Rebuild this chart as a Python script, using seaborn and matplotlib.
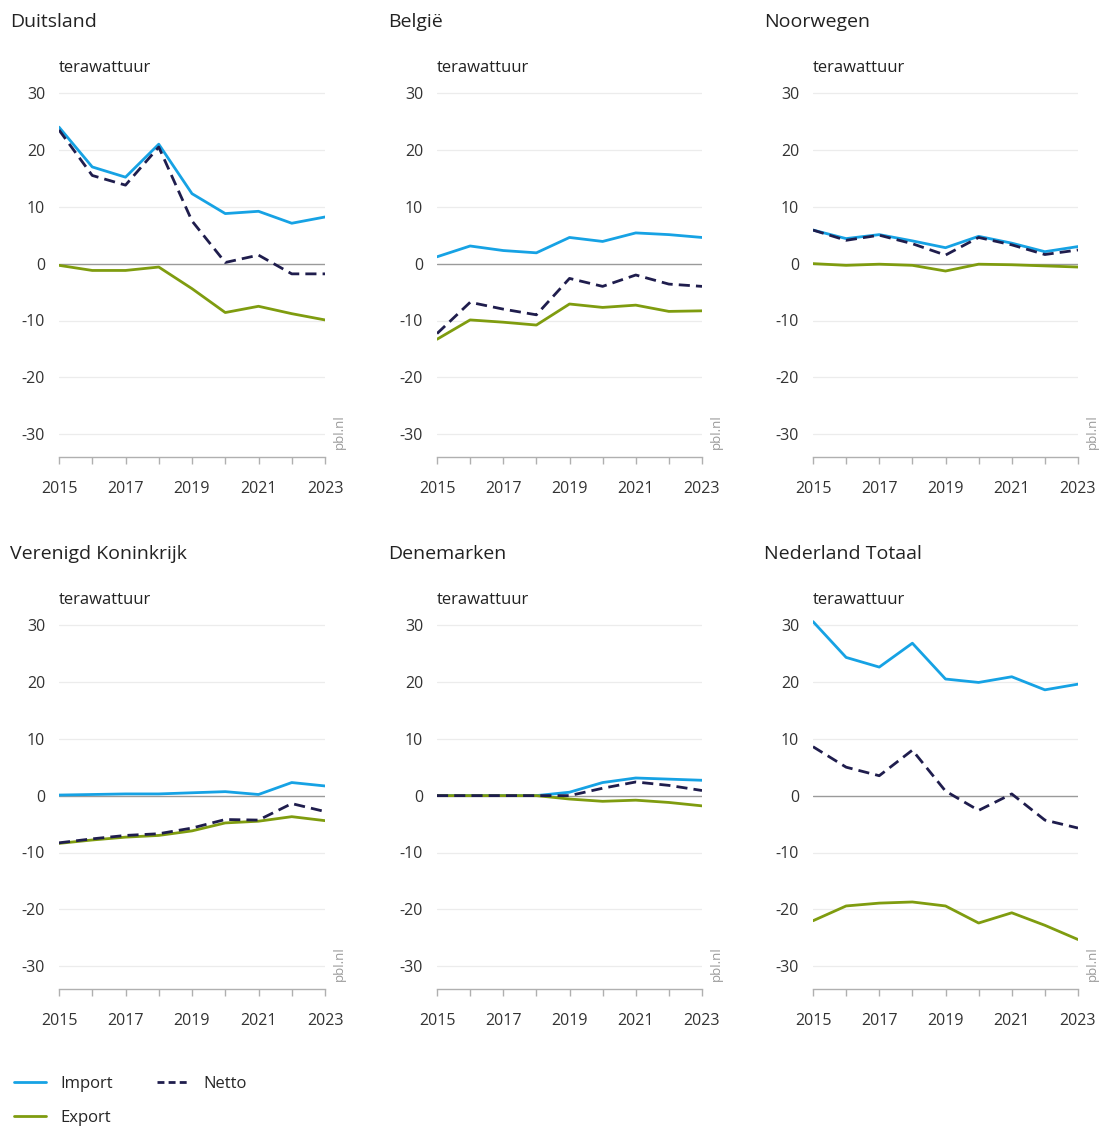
import pandas as pd
import matplotlib.pyplot as plt
import seaborn as sns
from matplotlib.lines import Line2D

# Data (terawattuur)
years = [2015, 2016, 2017, 2018, 2019, 2020, 2021, 2022, 2023]
countries = ['Duitsland', 'België', 'Noorwegen',
             'Verenigd Koninkrijk', 'Denemarken', 'Nederland Totaal']

import_vals = {
    'Duitsland': [24.0, 17.0, 15.2, 21.0, 12.3, 8.8, 9.2, 7.1, 8.2],
    'België': [1.2, 3.1, 2.3, 1.9, 4.6, 3.9, 5.4, 5.1, 4.6],
    'Noorwegen': [5.9, 4.4, 5.1, 4.0, 2.8, 4.8, 3.6, 2.1, 3.0],
    'Verenigd Koninkrijk': [0.1, 0.2, 0.3, 0.3, 0.5, 0.7, 0.2, 2.3, 1.7],
    'Denemarken': [0.0, 0.0, 0.0, 0.0, 0.6, 2.3, 3.1, 2.9, 2.7],
    'Nederland Totaal': [30.6, 24.3, 22.6, 26.8, 20.5, 19.9, 20.9, 18.6, 19.6],
}
export_vals = {
    'Duitsland': [-0.3, -1.2, -1.2, -0.6, -4.4, -8.6, -7.5, -8.8, -9.9],
    'België': [-13.3, -9.9, -10.3, -10.8, -7.1, -7.7, -7.3, -8.4, -8.3],
    'Noorwegen': [0.0, -0.3, -0.1, -0.3, -1.3, -0.1, -0.2, -0.4, -0.6],
    'Verenigd Koninkrijk': [-8.4, -7.8, -7.3, -7.0, -6.2, -4.8, -4.5, -3.7, -4.4],
    'Denemarken': [0.0, 0.0, 0.0, 0.0, -0.6, -1.0, -0.8, -1.2, -1.8],
    'Nederland Totaal': [-22.0, -19.4, -18.9, -18.7, -19.4, -22.4, -20.6, -22.8, -25.3],
}
netto_vals = {
    'Duitsland': [23.5, 15.5, 13.8, 20.5, 7.5, 0.2, 1.5, -1.8, -1.8],
    'België': [-12.3, -6.8, -8.0, -9.0, -2.6, -4.0, -2.0, -3.6, -4.0],
    'Noorwegen': [5.9, 4.1, 5.0, 3.5, 1.5, 4.6, 3.3, 1.6, 2.4],
    'Verenigd Koninkrijk': [-8.3, -7.6, -7.0, -6.7, -5.7, -4.2, -4.3, -1.4, -2.8],
    'Denemarken': [0.0, 0.0, 0.0, 0.0, 0.0, 1.3, 2.4, 1.8, 0.9],
    'Nederland Totaal': [8.6, 5.0, 3.5, 8.0, 0.8, -2.6, 0.3, -4.3, -5.7],
}

y_ticks = [-30, -20, -10, 0, 10, 20, 30]
x_ticks = [2015, 2017, 2019, 2021, 2023]

c_import = '#16a2e4'
c_export = '#7f9c0f'
c_netto = '#1f1d4d'

sns.set_style('white')
plt.rcParams['font.family'] = ['Open Sans', 'DejaVu Sans']
plt.rcParams['axes.unicode_minus'] = False

fig = plt.figure(figsize=(11.05, 11.27), dpi=100)
W, H = 1105, 1127

# axes pixel boxes: left x, right x, y pixel of value 30, y pixel of bottom (-34)
col_x = [(59, 325), (437, 702), (813, 1078)]
row_y = [(93, 457), (625, 989)]
ymin, ymax = -34, 32
px_per_unit = (457 - 93) / (30 - ymin)

for i, name in enumerate(countries):
    r, c = divmod(i, 3)
    x0, x1 = col_x[c]
    y30, yb = row_y[r]
    yt = y30 - (ymax - 30) * px_per_unit
    ax = fig.add_axes([x0 / W, 1 - yb / H, (x1 - x0) / W, (yb - yt) / H])
    ax.patch.set_alpha(0)

    for yv in y_ticks:
        ax.axhline(yv, color='#9a9a9a' if yv == 0 else '#ececec',
                   lw=1.0 if yv == 0 else 0.9, zorder=1)

    df = pd.DataFrame({'jaar': years, 'Import': import_vals[name],
                       'Export': export_vals[name], 'Netto': netto_vals[name]})
    sns.lineplot(data=df, x='jaar', y='Import', ax=ax, color=c_import, lw=2.0, zorder=3)
    sns.lineplot(data=df, x='jaar', y='Export', ax=ax, color=c_export, lw=2.0, zorder=3)
    sns.lineplot(data=df, x='jaar', y='Netto', ax=ax, color=c_netto, lw=2.0,
                 linestyle=(0, (4, 2.2)), zorder=4)

    ax.set_xlim(2015, 2023)
    ax.set_ylim(ymin, ymax)
    ax.set_xticks(years, minor=True)
    ax.set_xticks(x_ticks)
    ax.set_yticks(y_ticks)
    ax.set_xlabel('')
    ax.set_ylabel('')
    for s in ['top', 'right', 'left']:
        ax.spines[s].set_visible(False)
    ax.spines['bottom'].set_color('#b0b0b0')
    ax.spines['bottom'].set_linewidth(1.0)
    ax.tick_params(axis='x', which='both', bottom=True, direction='out', length=5,
                   width=1.0, color='#b0b0b0', labelsize=11.5,
                   labelcolor='#333333', pad=12)
    ax.tick_params(axis='y', left=False, length=0, labelsize=11.5,
                   labelcolor='#333333', pad=10)

    fig.text((x0 - 49) / W, 1 - (y30 - 71) / H, name, fontsize=14,
             color='#222222', va='center', ha='left')
    fig.text(x0 / W, 1 - (y30 - 25) / H, 'terawattuur', fontsize=12,
             color='#222222', va='center', ha='left')
    ax.text(1.055, 0.02, 'pbl.nl', transform=ax.transAxes, rotation=90,
            fontsize=9.5, color='#9a9a9a', ha='center', va='bottom')

# legend
handles = [Line2D([], [], color=c_import, lw=2.0),
           Line2D([], [], color=c_export, lw=2.0),
           Line2D([], [], color=c_netto, lw=2.0, linestyle=(0, (2.5, 1.5)))]
labels = ['Import', 'Export', 'Netto']
fig.legend(handles, labels, ncol=2, loc='upper left',
           bbox_to_anchor=(0.002, 1 - 1064 / H), frameon=False, fontsize=12,
           handlelength=1.9, columnspacing=2.6, labelspacing=1.1,
           handletextpad=0.9, borderpad=0.2)

plt.savefig('out.png', dpi=100)
